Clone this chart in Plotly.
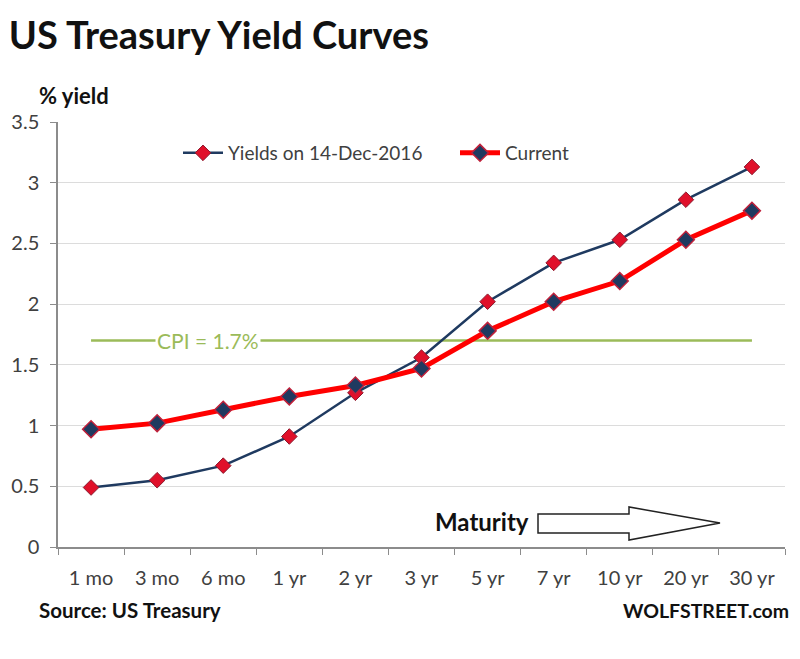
import plotly.graph_objects as go

maturities = ["1 mo", "3 mo", "6 mo", "1 yr", "2 yr", "3 yr", "5 yr", "7 yr", "10 yr", "20 yr", "30 yr"]
yields_2016 = [0.49, 0.55, 0.67, 0.91, 1.27, 1.56, 2.02, 2.34, 2.53, 2.86, 3.13]
yields_current = [0.97, 1.02, 1.13, 1.24, 1.33, 1.47, 1.78, 2.02, 2.19, 2.53, 2.77]
cpi_value = 1.7
y_ticks = [0, 0.5, 1, 1.5, 2, 2.5, 3, 3.5]
y_tick_text = ["0", "0.5", "1", "1.5", "2", "2.5", "3", "3.5"]

FONT = "Lato"
NAVY = "#1F3A60"
RED = "#FF0000"
GREEN = "#9BBB59"

# the page body adds an 8px offset; positions below are given in page pixels and shifted
OFF = 8
L, R, T, B = 58, 785, 122, 547  # plot area in page pixels


def px(x):
    return (x - L) / (R - L)


def py(y):
    return (B - y) / (B - T)


fig = go.Figure()

fig.add_trace(go.Scatter(
    x=maturities, y=[cpi_value] * len(maturities), mode="lines",
    line=dict(color=GREEN, width=2.5), showlegend=False, hoverinfo="skip"))

fig.add_trace(go.Scatter(
    x=maturities, y=yields_2016, mode="lines+markers", name="Yields on 14-Dec-2016",
    line=dict(color=NAVY, width=2.5),
    marker=dict(symbol="diamond", size=12, color="#E0102A", line=dict(color="#8B1A2E", width=1))))

fig.add_trace(go.Scatter(
    x=maturities, y=yields_current, mode="lines+markers", name="Current",
    line=dict(color=RED, width=5),
    marker=dict(symbol="diamond", size=13, color="#1F3A60", line=dict(color="#C0203A", width=1.5))))

fig.update_layout(
    width=800, height=659,
    margin=dict(l=L - OFF, r=800 - R + OFF, t=T - OFF, b=659 - B + OFF, autoexpand=False),
    paper_bgcolor="white", plot_bgcolor="white",
    font=dict(family=FONT, size=18, color="#404040"),
    title=dict(text="<b>US Treasury Yield Curves</b>", font=dict(family=FONT, size=38, color="#111111"),
               xref="container", x=0.001, xanchor="left", yref="container", y=1 - (36 - OFF) / 659,
               yanchor="middle", pad=dict(l=0, t=0, b=0, r=0)),
    legend=dict(orientation="h", x=px(178), y=py(134), xanchor="left", yanchor="top",
                bgcolor="rgba(0,0,0,0)", font=dict(size=19, color="#404040"), itemwidth=40,
                entrywidth=222, entrywidthmode="pixels"),
    showlegend=True,
)

fig.update_xaxes(
    type="category", range=[-0.5, 10.5], showgrid=False, automargin=False,
    showline=True, linecolor="#8C8C8C", linewidth=1.5,
    ticks="outside", tickson="boundaries", ticklen=6, tickcolor="#8C8C8C",
    ticklabelstandoff=12,
    tickfont=dict(size=20, color="#404040"), fixedrange=True)

fig.update_yaxes(
    range=[0, 3.5], tickvals=y_ticks, ticktext=y_tick_text, automargin=False,
    showgrid=True, gridcolor="#DCDCDC", gridwidth=1, zeroline=False,
    showline=True, linecolor="#8C8C8C", linewidth=1.5,
    ticks="outside", ticklen=6, tickcolor="#8C8C8C",
    ticklabelstandoff=7,
    tickfont=dict(size=20, color="#404040"), fixedrange=True)

fig.add_annotation(x=px(208), y=cpi_value, xref="paper", yref="y", text="CPI = 1.7%", showarrow=False,
                   xanchor="center", yanchor="middle",
                   font=dict(family=FONT, size=21, color=GREEN), bgcolor="white", borderpad=1)

fig.add_annotation(x=px(37), y=py(95), xref="paper", yref="paper", text="<b>% yield</b>",
                   showarrow=False, xanchor="left", yanchor="middle",
                   font=dict(family=FONT, size=22, color="#111111"))

fig.add_annotation(x=px(531), y=py(521), xref="paper", yref="paper", text="<b>Maturity</b>",
                   showarrow=False, xanchor="right", yanchor="middle",
                   font=dict(family=FONT, size=24, color="#111111"))

fig.add_annotation(x=px(37), y=py(610), xref="paper", yref="paper", text="<b>Source: US Treasury</b>",
                   showarrow=False, xanchor="left", yanchor="middle",
                   font=dict(family=FONT, size=20.5, color="#111111"))

fig.add_annotation(x=px(791), y=py(610), xref="paper", yref="paper", text="<b>WOLFSTREET.com</b>",
                   showarrow=False, xanchor="right", yanchor="middle",
                   font=dict(family=FONT, size=19.5, color="#111111"))

# outline arrow (paper coordinates)
path = (f"M {px(538)},{py(514)} L {px(629)},{py(514)} L {px(629)},{py(507)} L {px(720)},{py(523)} "
        f"L {px(629)},{py(540)} L {px(629)},{py(533)} L {px(538)},{py(533)} Z")
fig.add_shape(type="path", path=path, xref="paper", yref="paper",
              line=dict(color="#222222", width=1.5), fillcolor="white")

fig.write_html("out.html")
